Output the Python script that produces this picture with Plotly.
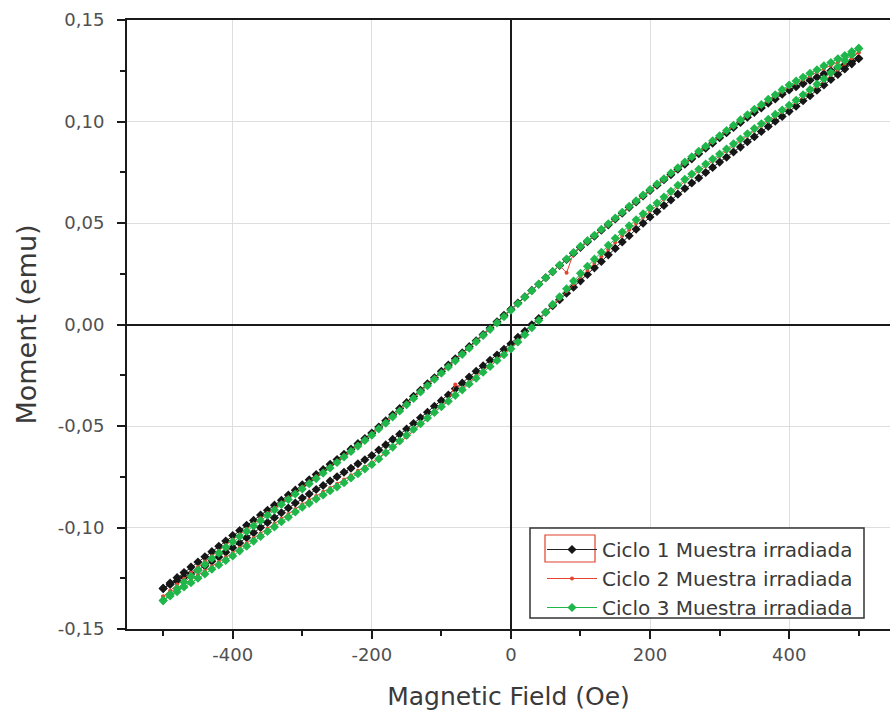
import plotly.graph_objects as go

# Field steps of the descending sweep (Oe); the ascending sweep uses the same steps in reverse
FIELD_DOWN = [
    500, 490, 480, 470, 460, 450, 440, 430, 420, 410,
    400, 390, 380, 370, 360, 350, 340, 330, 320, 310,
    300, 290, 280, 270, 260, 250, 240, 230, 220, 210,
    200, 190, 180, 170, 160, 150, 140, 130, 120, 110,
    100, 90, 80, 70, 60, 50, 40, 30, 20, 10,
    0, -10, -20, -30, -40, -50, -60, -70, -80, -90,
    -100, -110, -120, -130, -140, -150, -160, -170, -180, -190,
    -200, -210, -220, -230, -240, -250, -260, -270, -280, -290,
    -300, -310, -320, -330, -340, -350, -360, -370, -380, -390,
    -400, -410, -420, -430, -440, -450, -460, -470, -480, -490,
    -500,
]
FIELD_UP = FIELD_DOWN[::-1]

# Moment in milli-emu. "_down": +500 -> -500 Oe branch, "_up": -500 -> +500 Oe branch
ciclo1_down = [
    131.0, 129.6, 128.0, 126.6, 125.0, 123.5, 121.8, 120.3, 118.6, 117.1,
    115.5, 113.4, 111.1, 109.0, 106.7, 104.5, 102.1, 99.5, 97.1, 94.5,
    92.0, 89.3, 86.8, 84.1, 81.6, 79.0, 76.5, 73.8, 71.3, 68.6,
    66.0, 63.3, 60.4, 57.7, 54.8, 52.0, 49.1, 46.4, 43.5, 40.8,
    38.0, 35.1, 32.0, 29.1, 26.0, 23.0, 19.8, 16.8, 13.6, 10.6,
    7.5, 4.5, 1.3, -1.7, -4.9, -8.0, -10.9, -14.0, -16.9, -20.0,
    -23.0, -26.2, -29.2, -32.4, -35.4, -38.5, -41.4, -44.5, -47.4, -50.5,
    -53.5, -56.2, -58.7, -61.4, -63.9, -66.5, -68.9, -71.5, -73.9, -76.5,
    -79.0, -81.6, -84.0, -86.6, -89.0, -91.5, -93.9, -96.5, -98.9, -101.5,
    -104.0, -106.7, -109.2, -111.9, -114.4, -117.0, -119.5, -122.2, -124.7, -127.4,
    -130.0,
]
ciclo1_up = [
    -130.0, -128.1, -126.4, -124.5, -122.8, -121.0, -118.9, -116.6, -114.5, -112.2,
    -110.0, -107.6, -105.0, -102.6, -100.0, -97.5, -95.2, -92.7, -90.4, -87.9,
    -85.5, -83.5, -81.3, -79.3, -77.1, -75.0, -72.8, -70.8, -68.6, -66.6,
    -64.5, -61.8, -59.3, -56.6, -54.1, -51.5, -48.8, -45.9, -43.2, -40.3,
    -37.5, -34.7, -31.7, -28.9, -25.9, -23.0, -20.4, -17.6, -15.0, -12.2,
    -9.5, -6.3, -3.3, -0.1, 2.9, 6.0, 9.2, 12.2, 15.4, 18.4,
    21.5, 24.6, 27.9, 31.0, 34.3, 37.5, 40.7, 43.7, 46.9, 49.9,
    53.0, 55.7, 58.6, 61.3, 64.2, 67.0, 69.7, 72.2, 74.9, 77.4,
    80.0, 82.4, 85.0, 87.4, 90.0, 92.5, 95.1, 97.5, 100.1, 102.5,
    105.0, 107.5, 110.2, 112.7, 115.4, 118.0, 120.7, 123.2, 125.9, 128.4,
    131.0,
]
ciclo2_down = [
    134.0, 132.3, 130.8, 129.1, 127.6, 126.0, 124.3, 122.4, 120.7, 118.8,
    117.0, 114.6, 112.4, 110.0, 107.8, 105.5, 102.8, 100.3, 97.6, 95.1,
    92.5, 89.8, 87.3, 84.6, 82.1, 79.5, 76.8, 74.1, 71.4, 68.7,
    66.0, 63.3, 60.4, 57.7, 54.8, 52.0, 49.1, 46.4, 43.5, 40.8,
    38.0, 35.1, 25.5, 29.0, 26.0, 23.0, 19.7, 16.6, 13.3, 10.2,
    7.0, 4.0, 0.8, -2.3, -5.5, -8.5, -11.4, -14.5, -17.4, -20.5,
    -23.5, -26.7, -29.7, -32.9, -35.9, -39.0, -41.9, -45.0, -47.9, -51.0,
    -54.0, -56.8, -59.4, -62.2, -64.8, -67.5, -69.9, -72.5, -74.9, -77.5,
    -80.0, -82.7, -85.2, -87.9, -90.4, -93.0, -95.5, -98.2, -100.7, -103.4,
    -106.0, -108.8, -111.4, -114.2, -116.8, -119.5, -122.3, -125.3, -128.1, -131.1,
    -134.0,
]
ciclo2_up = [
    -134.0, -131.8, -129.8, -127.6, -125.6, -123.5, -121.4, -119.1, -117.0, -114.7,
    -112.5, -110.0, -107.7, -105.2, -102.9, -100.5, -98.2, -95.7, -93.4, -90.9,
    -88.5, -86.4, -84.5, -82.4, -80.5, -78.5, -76.3, -74.3, -72.1, -70.1,
    -68.0, -65.6, -63.0, -60.6, -58.0, -55.5, -52.3, -49.3, -46.1, -43.1,
    -40.0, -37.2, -29.5, -31.6, -28.4, -25.5, -22.6, -19.9, -17.0, -14.3,
    -11.5, -8.2, -4.7, -1.4, 2.1, 5.5, 9.2, 12.7, 16.4, 19.9,
    23.5, 26.8, 30.3, 33.6, 37.1, 40.5, 43.7, 46.7, 49.9, 52.9,
    56.0, 58.8, 61.8, 64.6, 67.6, 70.5, 73.1, 75.5, 78.1, 80.5,
    83.0, 85.4, 88.0, 90.4, 93.0, 95.5, 97.9, 100.1, 102.5, 104.7,
    107.0, 109.5, 112.2, 114.7, 117.4, 120.0, 122.9, 125.6, 128.5, 131.2,
    134.0,
]
ciclo3_down = [
    136.0, 134.4, 132.5, 130.9, 129.1, 127.5, 125.5, 123.8, 121.8, 119.9,
    118.0, 115.7, 113.2, 110.9, 108.3, 106.0, 103.3, 100.8, 98.1, 95.6,
    93.0, 90.5, 87.8, 85.3, 82.6, 80.0, 77.2, 74.6, 71.8, 69.2,
    66.5, 63.8, 60.9, 58.2, 55.3, 52.5, 49.6, 46.9, 44.0, 41.3,
    38.5, 35.5, 32.3, 29.3, 26.1, 23.0, 19.9, 16.6, 13.5, 10.2,
    7.0, 3.8, 0.8, -2.4, -5.4, -8.5, -11.7, -14.7, -17.9, -20.9,
    -24.0, -27.0, -30.2, -33.2, -36.4, -39.5, -42.6, -45.5, -48.6, -51.4,
    -54.5, -57.1, -59.9, -62.5, -65.3, -68.0, -70.7, -73.2, -75.9, -78.4,
    -81.0, -83.5, -86.2, -88.7, -91.4, -94.0, -96.7, -99.2, -101.9, -104.4,
    -107.0, -109.7, -112.6, -115.3, -118.2, -121.0, -124.1, -127.0, -130.1, -132.9,
    -136.0,
]
ciclo3_up = [
    -136.0, -133.7, -131.6, -129.3, -127.2, -125.0, -122.9, -120.6, -118.5, -116.2,
    -114.0, -111.5, -109.2, -106.7, -104.4, -102.0, -99.7, -97.2, -94.9, -92.4,
    -90.0, -88.1, -85.9, -84.0, -81.9, -80.0, -77.9, -75.6, -73.5, -71.2,
    -69.0, -66.2, -63.2, -60.4, -57.4, -54.5, -51.6, -48.9, -46.0, -43.3,
    -40.5, -37.8, -34.9, -32.2, -29.3, -26.5, -23.5, -20.7, -17.7, -14.9,
    -12.0, -8.6, -5.0, -1.6, 2.0, 6.0, 9.9, 13.7, 17.6, 21.4,
    25.2, 28.7, 32.2, 35.6, 39.0, 42.5, 45.6, 48.6, 51.6, 54.5,
    57.4, 59.8, 62.8, 65.6, 68.6, 71.5, 74.1, 76.5, 79.1, 81.5,
    84.0, 86.4, 89.0, 91.4, 94.0, 96.5, 98.9, 101.1, 103.5, 105.7,
    108.0, 110.5, 113.2, 115.7, 118.4, 121.0, 124.1, 127.0, 130.1, 132.9,
    136.0,
]

SERIES_NAMES = ["Ciclo 1 Muestra irradiada", "Ciclo 2 Muestra irradiada", "Ciclo 3 Muestra irradiada"]

X_TICKS = [-400, -200, 0, 200, 400]
X_TICK_TEXT = ["-400", "-200", "0", "200", "400"]
X_MINOR = [-500, -300, -100, 100, 300, 500]
Y_TICKS = [-0.15, -0.10, -0.05, 0.0, 0.05, 0.10, 0.15]
Y_TICK_TEXT = ["-0,15", "-0,10", "-0,05", "0,00", "0,05", "0,10", "0,15"]
Y_MINOR = [-0.125, -0.075, -0.025, 0.025, 0.075, 0.125]

FONT = "DejaVu Sans, Verdana, sans-serif"

# plot area in pixels (left, right, top, bottom) for placing the legend frame
PX_L, PX_R, PX_T, PX_B = 127, 890, 20, 629


def px_x(px):
    return (px - PX_L) / (PX_R - PX_L)


def px_y(py):
    return (PX_B - py) / (PX_B - PX_T)


styles = [
    dict(color="#161616", symbol="diamond", size=7, line_color="#222222"),
    dict(color="#e8432e", symbol="circle", size=4, line_color="#e8432e"),
    dict(color="#1fb64a", symbol="diamond", size=7, line_color="#1fb64a"),
]
loops = [(ciclo1_down, ciclo1_up), (ciclo2_down, ciclo2_up), (ciclo3_down, ciclo3_up)]

fig = go.Figure()
for name, (down, up), st in zip(SERIES_NAMES, loops, styles):
    fig.add_trace(go.Scatter(
        x=FIELD_DOWN + FIELD_UP,
        y=[v / 1000.0 for v in down + up],
        mode="lines+markers",
        name=name,
        line=dict(color=st["line_color"], width=1),
        marker=dict(color=st["color"], symbol=st["symbol"], size=st["size"], line=dict(width=0)),
    ))

axis_common = dict(
    showline=True, linecolor="#1a1a1a", linewidth=2,
    ticks="outside", ticklen=8, tickwidth=2, tickcolor="#1a1a1a",
    showgrid=True, gridcolor="#dedede", gridwidth=1,
    zeroline=True, zerolinecolor="#1a1a1a", zerolinewidth=2,
    tickfont=dict(family=FONT, size=18, color="#505050"),
    tickmode="array",
)

fig.update_xaxes(
    **axis_common,
    range=[-552, 545], mirror=True,
    tickvals=X_TICKS, ticktext=X_TICK_TEXT,
    minor=dict(tickvals=X_MINOR, ticks="outside", ticklen=5, tickwidth=2, tickcolor="#1a1a1a", showgrid=False),
    title=dict(text="Magnetic Field (Oe)", font=dict(family=FONT, size=25, color="#3a3a3a"), standoff=24),
)
fig.update_yaxes(
    **axis_common,
    range=[-0.15, 0.15],
    tickvals=Y_TICKS, ticktext=Y_TICK_TEXT, ticklabelstandoff=9,
    minor=dict(tickvals=Y_MINOR, ticks="outside", ticklen=5, tickwidth=2, tickcolor="#1a1a1a", showgrid=False),
    title=dict(text="Moment (emu)", font=dict(family=FONT, size=27, color="#3a3a3a"), standoff=13),
)

# Legend frame and the red highlight around the first entry's sample
fig.add_shape(type="rect", xref="paper", yref="paper", layer="above",
              x0=px_x(530), x1=px_x(864), y0=px_y(618), y1=px_y(528),
              line=dict(color="#333333", width=1.5), fillcolor="white")
fig.add_shape(type="rect", xref="paper", yref="paper", layer="above",
              x0=px_x(545), x1=px_x(595), y0=px_y(562), y1=px_y(535),
              line=dict(color="#e0402a", width=1.2), fillcolor="rgba(0,0,0,0)")

fig.update_layout(
    width=890, height=725,
    margin=dict(l=PX_L, r=0, t=PX_T, b=725 - PX_B, autoexpand=False),
    plot_bgcolor="white", paper_bgcolor="white",
    legend=dict(
        x=px_x(542), y=px_y(530), xanchor="left", yanchor="top",
        bgcolor="rgba(0,0,0,0)", borderwidth=0,
        font=dict(family=FONT, size=20, color="#3a3a3a"),
        itemwidth=50, tracegroupgap=0,
    ),
    showlegend=True,
)

fig.write_html("out.html")
